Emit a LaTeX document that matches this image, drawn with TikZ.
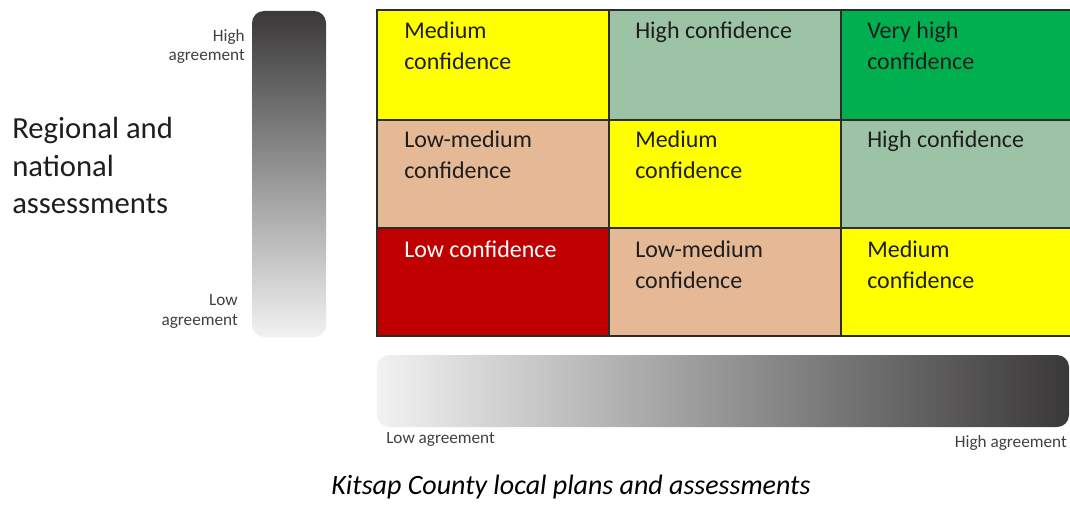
\documentclass[tikz,border=0pt]{standalone}
\usepackage{fontspec}
\setmainfont{Carlito}
\definecolor{cyellow}{RGB}{255,255,0}
\definecolor{csage}{RGB}{157,195,166}
\definecolor{cgreen}{RGB}{0,176,80}
\definecolor{ctan}{RGB}{230,185,150}
\definecolor{cred}{RGB}{192,0,0}
\definecolor{ctext}{RGB}{30,30,30}
\definecolor{cgrid}{RGB}{45,45,40}
\definecolor{cdark}{RGB}{58,56,56}
\definecolor{cmid}{RGB}{150,149,149}
\definecolor{clight}{RGB}{242,242,242}
\definecolor{clabel}{RGB}{64,64,64}
\begin{document}
\begin{tikzpicture}[x=0.75pt,y=-0.75pt,
  celltext/.style={anchor=base west,inner sep=0pt,align=left,text=ctext,
    font=\fontsize{18}{23.25}\selectfont},
  smalllabel/.style={inner sep=0pt,text=clabel,font=\fontsize{12.9}{14.3}\selectfont},
  gridline/.style={draw=cgrid,line width=1.4pt}]
\useasboundingbox (0,0) rectangle (1070,506);
% bars
\shade[rounded corners=9pt,top color=cdark,bottom color=clight,middle color=cmid]
  (252,11) rectangle (326,337);
\shade[rounded corners=9pt,left color=clight,right color=cdark,middle color=cmid]
  (377,355) rectangle (1069,427);
% cells
\fill[cyellow] (377,10) rectangle (609,120);
\fill[csage]   (609,10) rectangle (841,120);
\fill[cgreen]  (841,10) rectangle (1075,120);
\fill[ctan]    (377,120) rectangle (609,228);
\fill[cyellow] (609,120) rectangle (841,228);
\fill[csage]   (841,120) rectangle (1075,228);
\fill[cred]    (377,228) rectangle (609,336);
\fill[ctan]    (609,228) rectangle (841,336);
\fill[cyellow] (841,228) rectangle (1075,336);
\draw[gridline] (377,10) rectangle (1075,336);
\draw[gridline] (609,10) -- (609,336) (841,10) -- (841,336)
  (377,120) -- (1075,120) (377,228) -- (1075,228);
% cell texts (base anchor = baseline of last line)
\node[celltext] (c11) at (404,70) {Medium\\confidence};
\node[celltext] (c12) at (635,39) {High confidence};
\node[celltext] (c13) at (867,70) {Very high\\confidence};
\node[celltext] (c21) at (404,179) {Low-medium\\confidence};
\node[celltext] (c22) at (635,179) {Medium\\confidence};
\node[celltext] (c23) at (867,148) {High confidence};
\node[celltext,text=white] (c31) at (404,257) {Low confidence};
\node[celltext] (c32) at (635,288) {Low-medium\\confidence};
\node[celltext] (c33) at (867,288) {Medium\\confidence};
% left title
\node[anchor=base west,inner sep=0pt,align=left,text=ctext,
  font=\fontsize{23}{27.75}\selectfont] (title) at (12,213)
  {Regional and\\national\\assessments};
% vertical bar labels
\node[smalllabel,anchor=base east,align=right] (hv) at (245,61) {High\\agreement};
\node[smalllabel,anchor=base east,align=right] (lv) at (238,325) {Low\\agreement};
% horizontal bar labels
\node[smalllabel,anchor=base west] (lh) at (386,443) {Low agreement};
\node[smalllabel,anchor=base east] (hh) at (1067,447) {High agreement};
% caption
\node[anchor=base,inner sep=0pt,text=black,font=\fontsize{21}{25}\selectfont\itshape]
  (cap) at (571,494) {Kitsap County local plans and assessments};
\end{tikzpicture}
\end{document}
